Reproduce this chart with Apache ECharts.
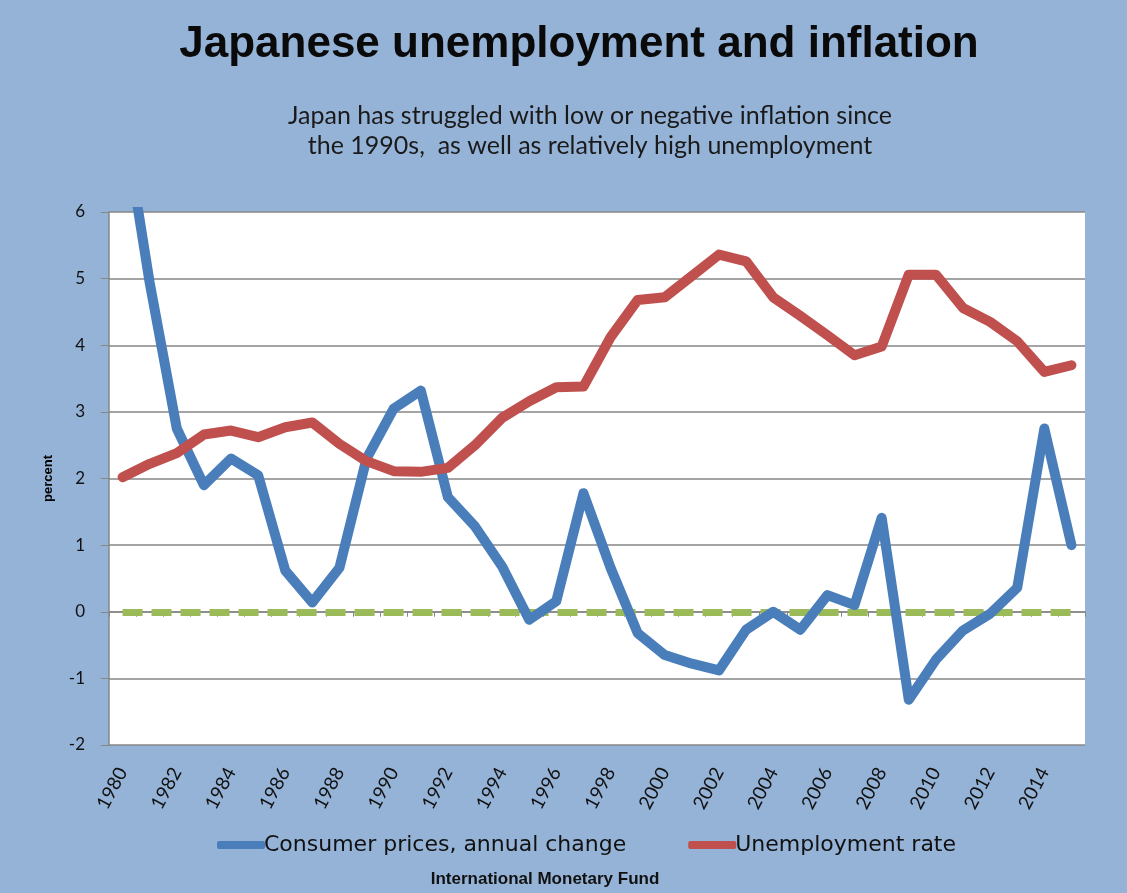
<!DOCTYPE html>
<html>
<head>
<meta charset="utf-8">
<script src="https://cdn.jsdelivr.net/npm/echarts@6/dist/echarts.min.js"></script>
<style>
  html, body { margin: 0; padding: 0; background: #95b3d7; }
  #main { width: 1127px; height: 893px; }
</style>
</head>
<body>
<div id="main"></div>
<script>
// years on the x axis
var years = [];
for (var y = 1980; y <= 2015; y++) years.push(String(y));

// IMF figures
var consumerPrices = [7.5, 4.94, 2.75, 1.9, 2.3, 2.05, 0.62, 0.14, 0.66, 2.3, 3.05, 3.32,
  1.72, 1.28, 0.68, -0.12, 0.16, 1.78, 0.66, -0.32, -0.65, -0.78, -0.88, -0.27,
  0.0, -0.27, 0.25, 0.1, 1.41, -1.32, -0.72, -0.28, -0.03, 0.36, 2.75, 1.0];
var unemployment = [2.02, 2.22, 2.38, 2.66, 2.72, 2.62, 2.77, 2.84, 2.52, 2.26, 2.11, 2.1,
  2.16, 2.5, 2.91, 3.16, 3.37, 3.38, 4.12, 4.68, 4.72, 5.04, 5.36, 5.26,
  4.72, 4.44, 4.15, 3.85, 3.98, 5.06, 5.06, 4.56, 4.35, 4.06, 3.6, 3.7];

var myChart = echarts.init(document.getElementById('main'));

myChart.setOption({
  backgroundColor: '#95b3d7',
  animation: false,
  title: [{
    text: 'Japanese unemployment and inflation',
    left: 574, top: 18, textAlign: 'center',
    textStyle: { fontFamily: 'Liberation Sans', fontSize: 44, fontWeight: 'bold', color: '#0a0a0a' }
  }, {
    text: 'Japan has struggled with low or negative inflation since\nthe 1990s,  as well as relatively high unemployment',
    left: 585, top: 96, textAlign: 'center',
    textStyle: { fontFamily: 'Lato', fontSize: 25, fontWeight: 'normal', color: '#1a1a1a', lineHeight: 30 }
  }, {
    text: 'International Monetary Fund',
    left: 540, top: 866, textAlign: 'center',
    textStyle: { fontFamily: 'Liberation Sans', fontSize: 17, fontWeight: 'bold', color: '#111' }
  }],
  legend: {
    left: 212, top: 829,
    itemWidth: 48, itemHeight: 8, itemGap: 62,
    icon: 'roundRect',
    textStyle: {
      fontFamily: 'DejaVu Sans',
      fontSize: 22, color: '#111', padding: [0, 0, 0, -6]
    },
    data: ['Consumer prices, annual change', 'Unemployment rate']
  },
  grid: { left: 109, right: 42, top: 212, bottom: 148, containLabel: false, backgroundColor: '#fff', show: true, borderWidth: 0 },
  xAxis: {
    type: 'category',
    data: years,
    boundaryGap: true,
    axisLine: { lineStyle: { color: '#868686', width: 1.5 } },
    axisTick: { show: true, interval: 0, length: 5, lineStyle: { color: '#868686' } },
    axisLabel: { interval: 1, rotate: 62, fontFamily: 'Lato', fontSize: 19, color: '#111', margin: 24 }
  },
  yAxis: {
    type: 'value',
    min: -2, max: 6, interval: 1,
    name: 'percent',
    nameLocation: 'middle',
    nameGap: 54,
    nameRotate: 90,
    nameTextStyle: { fontFamily: 'Liberation Sans', fontSize: 13, fontWeight: 'bold', color: '#000' },
    axisLine: { show: true, lineStyle: { color: '#868686', width: 1.5 } },
    axisTick: { show: true, length: 8, lineStyle: { color: '#868686' } },
    axisLabel: { fontFamily: 'Lato', fontSize: 17, color: '#111', margin: 24 },
    splitLine: { lineStyle: { color: '#868686', width: 1.5 } }
  },
  series: [{
    name: 'Consumer prices, annual change',
    type: 'line',
    data: consumerPrices,
    symbol: 'none',
    clip: true,
    z: 3,
    color: '#4a7ebb',
    lineStyle: { width: 10, color: '#4a7ebb', join: 'round', cap: 'round' },
    markLine: {
      silent: true,
      symbol: 'none',
      label: { show: false },
      lineStyle: { color: '#9bbb59', width: 7, type: [20, 9] },
      data: [[{ coord: ['1980', 0] }, { coord: ['2015', 0] }]],
      z: 2
    }
  }, {
    name: 'Unemployment rate',
    type: 'line',
    data: unemployment,
    symbol: 'none',
    z: 4,
    color: '#c0504d',
    lineStyle: { width: 10, color: '#c0504d', join: 'round', cap: 'round' }
  }]
});
</script>
</body>
</html>
